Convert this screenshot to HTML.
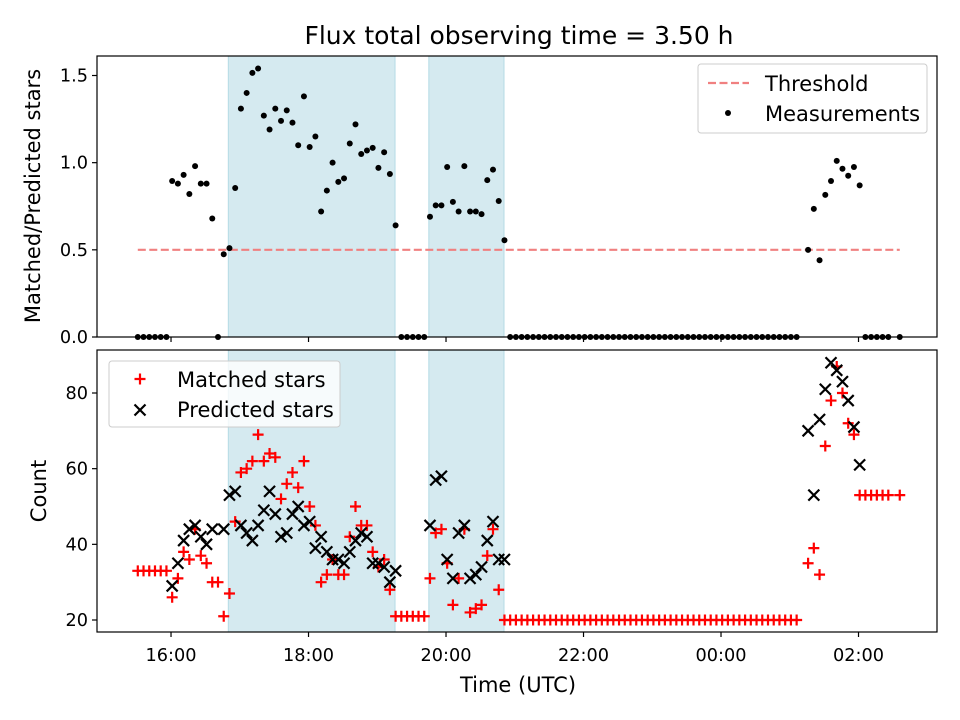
<!DOCTYPE html>
<html><head><meta charset="utf-8"><style>
body{margin:0;background:#fff;}
svg{display:block;font-family:"DejaVu Sans","Liberation Sans",sans-serif;}
</style></head><body>
<svg id="chart" width="960" height="720" viewBox="0 0 960 720"></svg>
<script>
const times = [-29,-24,-19,-14,-9,-4,
 1,6,11,16,21,26,31,36,41,
 46,51,56,61,66,71,76,81,86,91,96,101,106,111,116,121,126,131,136,141,146,151,156,161,166,171,176,181,186,191,196,
 201,206,211,216,221,
 226,231,236,241,246,251,256,261,266,271,276,281,286,291,
 296,301,306,311,316,321,326,331,336,341,346,351,356,361,366,371,376,381,386,391,396,401,406,411,416,421,426,431,436,441,446,451,456,461,466,471,476,481,486,491,496,501,506,511,516,521,526,531,536,541,546,
 556,561,566,571,576,581,586,591,596,601,
 606,611,616,621,626,636];
const ratio = [0,0,0,0,0,0,
 .895,.88,.93,.82,.98,.88,.88,.68,0,
 .475,.51,.855,1.31,1.40,1.515,1.54,1.27,1.19,1.31,1.24,1.30,1.23,1.10,1.38,1.09,1.15,.72,.84,1.00,.89,.91,1.11,1.22,1.05,1.07,1.085,.97,1.06,.935,.64,
 0,0,0,0,0,
 .69,.755,.755,.975,.775,.72,.98,.72,.72,.705,.90,.96,.78,.555,
 0,0,0,0,0,0,0,0,0,0,0,0,0,0,0,0,0,0,0,0,0,0,0,0,0,0,0,0,0,0,0,0,0,0,0,0,0,0,0,0,0,0,0,0,0,0,0,0,0,0,0,
 .50,.735,.44,.815,.895,1.01,.965,.925,.975,.87,
 0,0,0,0,0,0];
const matched = [33,33,33,33,33,33,
 26,31,38,36,44,37,35,30,30,
 21,27,46,59,60,62,69,62,64,63,52,56,59,55,62,50,45,30,32,36,32,32,42,50,45,45,38,34,36,28,21,
 21,21,21,21,21,
 31,43,44,35,24,31,44,22,23,24,37,44,28,20,
 20,20,20,20,20,20,20,20,20,20,20,20,20,20,20,20,20,20,20,20,20,20,20,20,20,20,20,20,20,20,20,20,20,20,20,20,20,20,20,20,20,20,20,20,20,20,20,20,20,20,20,
 35,39,32,66,78,87,80,72,69,53,
 53,53,53,53,53,53];
const predicted = [null,null,null,null,null,null,
 29,35,41,44,45,42,40,44,null,
 44,53,54,45,43,41,45,49,54,48,42,43,48,50,45,46,39,42,38,36,36,35,38,41,43,42,35,35,34,30,33,
 null,null,null,null,null,
 45,57,58,36,31,43,45,31,32,34,41,46,36,36,
 null,null,null,null,null,null,null,null,null,null,null,null,null,null,null,null,null,null,null,null,null,null,null,null,null,null,null,null,null,null,null,null,null,null,null,null,null,null,null,null,null,null,null,null,null,null,null,null,null,null,null,
 70,53,73,81,88,86,83,78,71,61,
 null,null,null,null,null,null];
const spans = [[50,195.5],[225,290.6]];
const threshold = 0.5;
const thresholdRange = [-29,636];
const xTicks = [0,120,240,360,480,600];
const xTickLabels = ["16:00","18:00","20:00","22:00","00:00","02:00"];
const topTicks = [0,0.5,1.0,1.5];
const topTickLabels = ["0.0","0.5","1.0","1.5"];
const botTicks = [20,40,60,80];
const botTickLabels = ["20","40","60","80"];

const NS="http://www.w3.org/2000/svg";
const svg=document.getElementById('chart');
const L=97,R=937, T1=56,B1=337, T2=350,B2=632;
const xMin=-64.6, xMax=668.5;
const FT=17.7, FL=21;
const X=m=>L+(m-xMin)/(xMax-xMin)*(R-L);
const Y1=v=>337-v*174.33;
const Y2=v=>620-(v-20)*3.7833;
function el(tag,attrs,parent){const e=document.createElementNS(NS,tag);for(const k in attrs)e.setAttribute(k,attrs[k]);(parent||svg).appendChild(e);return e;}
function txt(s,attrs,parent){const e=el('text',attrs,parent);e.textContent=s;return e;}

const title=txt("Flux total observing time = 3.50 h",{x:519,y:44,'text-anchor':'middle','font-size':25,fill:'#000'});



function panel(T,B,name){
  const g=el('g',{});
  
  
  spans.forEach(s=>{
    const r=el('rect',{x:X(s[0]),y:T,width:X(s[1])-X(s[0]),height:B-T,fill:'#d5eaf0',stroke:'#b5dbe5','stroke-width':1},g);
    
    
  });
  return g;
}
const gTop=panel(T1,B1,'ratio-panel');
const th=el('line',{x1:X(thresholdRange[0]),x2:X(thresholdRange[1]),y1:Y1(threshold),y2:Y1(threshold),stroke:'#f08080','stroke-width':2.2,'stroke-dasharray':'8,3.5'},gTop);


times.forEach((m,i)=>{
  const c=el('circle',{cx:X(m),cy:Y1(ratio[i]),r:3,fill:'#000'},gTop);
  
  
});
el('rect',{x:L,y:T1,width:R-L,height:B1-T1,fill:'none',stroke:'#000','stroke-width':1.2},gTop);
topTicks.forEach((v,i)=>{
  el('line',{x1:L-5,x2:L,y1:Y1(v),y2:Y1(v),stroke:'#000','stroke-width':1.2},gTop);
  const t=txt(topTickLabels[i],{x:L-9,y:Y1(v)+6,'text-anchor':'end','font-size':FT},gTop);
  
  
});
xTicks.forEach(m=>{el('line',{x1:X(m),x2:X(m),y1:B1,y2:B1+5,stroke:'#000','stroke-width':1.2},gTop);});
const yl1=txt("Matched/Predicted stars",{x:0,y:0,transform:'translate(40,196) rotate(-90)','text-anchor':'middle','font-size':FL});



const lg1=el('g',{});


el('rect',{x:698,y:64,width:229,height:69,rx:3,fill:'#fff','fill-opacity':0.8,stroke:'#ccc'},lg1);
el('line',{x1:708,x2:749,y1:83,y2:83,stroke:'#f08080','stroke-width':2.2,'stroke-dasharray':'8,3.5'},lg1);
const le1=txt("Threshold",{x:765,y:91,'font-size':FL},lg1);


el('circle',{cx:728,cy:113,r:3,fill:'#000'},lg1);
const le2=txt("Measurements",{x:765,y:121,'font-size':FL},lg1);



const gBot=panel(T2,B2,'count-panel');
function plus(x,y,g){return el('path',{d:`M${x-5.5},${y}H${x+5.5}M${x},${y-5.5}V${y+5.5}`,stroke:'#f00','stroke-width':2.2,fill:'none'},g);}
function cross(x,y,g){return el('path',{d:`M${x-5.5},${y-5.5}L${x+5.5},${y+5.5}M${x-5.5},${y+5.5}L${x+5.5},${y-5.5}`,stroke:'#000','stroke-width':2.2,fill:'none'},g);}
times.forEach((m,i)=>{
  const p=plus(X(m),Y2(matched[i]),gBot);
  
  
});
times.forEach((m,i)=>{
  if(predicted[i]==null)return;
  const p=cross(X(m),Y2(predicted[i]),gBot);
  
  
});
el('rect',{x:L,y:T2,width:R-L,height:B2-T2,fill:'none',stroke:'#000','stroke-width':1.2},gBot);
botTicks.forEach((v,i)=>{
  el('line',{x1:L-5,x2:L,y1:Y2(v),y2:Y2(v),stroke:'#000','stroke-width':1.2},gBot);
  const t=txt(botTickLabels[i],{x:L-9,y:Y2(v)+6,'text-anchor':'end','font-size':FT},gBot);
  
  
});
xTicks.forEach((m,i)=>{
  el('line',{x1:X(m),x2:X(m),y1:B2,y2:B2+5,stroke:'#000','stroke-width':1.2},gBot);
  const t=txt(xTickLabels[i],{x:X(m),y:B2+29,'text-anchor':'middle','font-size':FT},gBot);
  
  
});
const yl2=txt("Count",{x:0,y:0,transform:'translate(46,491) rotate(-90)','text-anchor':'middle','font-size':FL});


const xl=txt("Time (UTC)",{x:518,y:692,'text-anchor':'middle','font-size':FL});



const lg2=el('g',{});


el('rect',{x:109,y:361,width:231,height:66,rx:3,fill:'#fff','fill-opacity':0.8,stroke:'#ccc'},lg2);
plus(140,379,lg2);
const le3=txt("Matched stars",{x:177,y:387,'font-size':FL},lg2);


cross(140,410,lg2);
const le4=txt("Predicted stars",{x:177,y:417,'font-size':FL},lg2);


</script>
</body></html>
